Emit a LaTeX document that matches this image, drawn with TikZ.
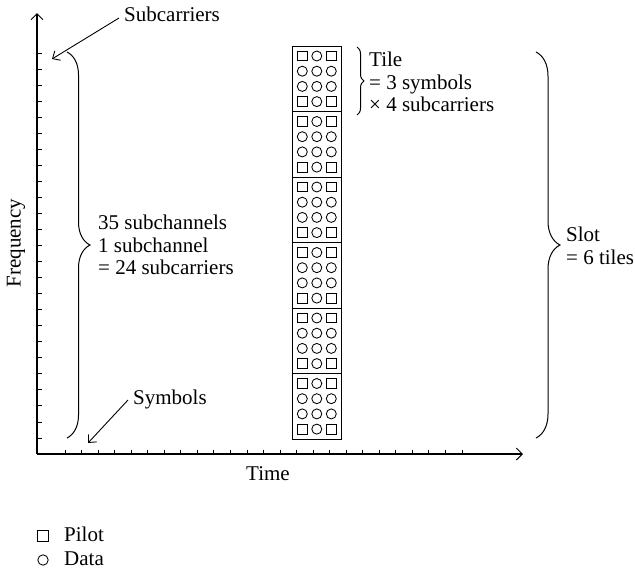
\documentclass[tikz,border=0pt]{standalone}
\usepackage{fontspec}
\setmainfont{Liberation Serif}
\usetikzlibrary{arrows.meta,decorations.pathreplacing}
\begin{document}
\begin{tikzpicture}[x=1pt,y=-1pt,
  lbl/.style={inner sep=0pt,font=\fontsize{21}{22.5}\selectfont},
  axis/.style={line width=1.1pt,-{Straight Barb[length=6pt,width=12pt,line width=1pt]}},
  ptr/.style={line width=0.9pt,-{Straight Barb[length=6pt,width=11pt]}},
  tickline/.style={line width=0.8pt},
  brc/.style={line width=1pt,decorate,decoration={brace,amplitude=#1}},
  sym/.style={line width=0.85pt},
  boxline/.style={line width=0.9pt}]
\useasboundingbox (0,0) rectangle (635,573);
% axes
\coordinate (O) at (37,454);
\coordinate (ytop) at (37,13);
\coordinate (xend) at (523,454);
\draw[axis] (O) -- (ytop);
\draw[axis] (O) -- (xend);
\foreach \i in {0,...,24} {\draw[tickline] (37,{53+\i*16.04}) -- ++(4.5,0);}
\foreach \i in {0,...,24} {\draw[tickline] ({65+\i*16.54},454) -- ++(0,-4.5);}
\node[lbl,rotate=90] (freq) at (16,243) {Frequency};
\node[lbl,anchor=base] (time) at (268,480) {Time};
% tile column
\draw[boxline] (292.5,46) rectangle (341.3,439);
\foreach \k in {1,...,5} {\draw[boxline] (292.5,{46+\k*65.5}) -- (341.3,{46+\k*65.5});}
\foreach \k in {0,...,5}{\foreach \r in {0,...,3}{\foreach \c in {0,...,2}{
  \pgfmathsetmacro\cx{302.3+14.5*\c}
  \pgfmathsetmacro\cy{56+65.5*\k+15.2*\r}
  \pgfmathtruncatemacro\sq{((\r==0)||(\r==3))&&(\c!=1)}
  \ifnum\sq=1 \draw[sym] ({\cx-4.9},{\cy-4.9}) rectangle ({\cx+4.9},{\cy+4.9});
  \else \draw[sym] (\cx,\cy) circle[radius=5];\fi
}}}
% braces
\coordinate (lbT) at (67,52); \coordinate (lbB) at (67,438);
\draw[brc=23] (lbT) -- (lbB);
\coordinate (rbT) at (536,52); \coordinate (rbB) at (536,438);
\draw[brc=24] (rbT) -- (rbB);
\coordinate (tbT) at (357,47); \coordinate (tbB) at (357,115);
\draw[brc=7] (tbT) -- (tbB);
% labels
\node[lbl,anchor=base west] (subc) at (124,21) {Subcarriers};
\node[lbl,anchor=base west] (symb) at (133,404) {Symbols};
\node[lbl,anchor=west,align=left] (subch) at (98,245) {35 subchannels\\1 subchannel\\= 24 subcarriers};
\node[lbl,anchor=west,align=left] (tile) at (369,82) {Tile\\= 3 symbols\\× 4 subcarriers};
\node[lbl,anchor=west,align=left] (slot) at (566,246) {Slot\\= 6 tiles};
% pointers
\coordinate (subcS) at (119,18); \coordinate (subcE) at (52,59);
\draw[ptr] (subcS) -- (subcE);
\coordinate (symbS) at (128,400); \coordinate (symbE) at (88,443);
\draw[ptr] (symbS) -- (symbE);
% legend
\draw[boxline] (37.5,530.5) rectangle (48.5,541.5);
\node[lbl,anchor=base west] (pilot) at (64,541.5) {Pilot};
\draw[sym] (43,560) circle[radius=5.2];
\node[lbl,anchor=base west] (data) at (64,565) {Data};
\end{tikzpicture}
\end{document}
